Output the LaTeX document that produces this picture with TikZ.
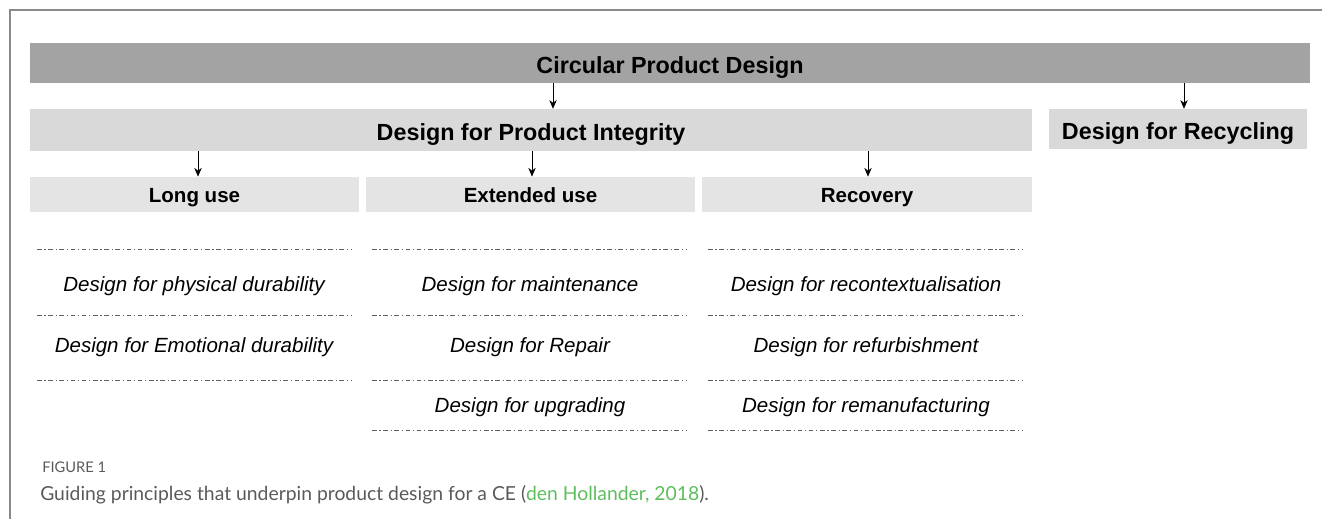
\documentclass[tikz,border=0pt]{standalone}
\usepackage{fontspec}
\setmainfont{Liberation Sans}
\newfontfamily\capfont{Lato}
\usetikzlibrary{arrows.meta}
\definecolor{topgray}{HTML}{A3A3A3}
\definecolor{midgray}{HTML}{D9D9D9}
\definecolor{subgray}{HTML}{E4E4E4}
\definecolor{sepgray}{HTML}{606060}
\definecolor{framegray}{HTML}{8A8A8A}
\definecolor{capgray}{HTML}{5A5A5A}
\definecolor{citegreen}{HTML}{5DBE5D}

\begin{document}
\begin{tikzpicture}[x=0.75pt,y=-0.75pt,
    bar/.style={inner sep=0pt,text height=15pt,text depth=0pt,
        font=\fontsize{17.5}{21}\selectfont\bfseries},
    sub/.style={inner sep=0pt,fill=subgray,minimum width=246.75pt,
        minimum height=26.5pt,text height=12pt,text depth=0pt,
        font=\fontsize{15.4}{18}\selectfont\bfseries},
    item/.style={inner sep=0pt,text height=12pt,text depth=0pt,
        font=\fontsize{15.4}{18}\selectfont\itshape},
    sep/.style={draw=sepgray,line width=0.7pt,
        dash pattern=on 3.5pt off 2pt on 0.9pt off 2pt},
    >={Stealth[length=6.5pt,width=5.5pt]}]
\useasboundingbox (0,0) rectangle (1322,519);
\draw[framegray,line width=1.2pt] (10,519) -- (10,10) -- (1322,10);
% bars
\node[bar,fill=topgray,minimum width=960pt,minimum height=30pt]
    (cpd) at (670,63) {Circular Product Design};
\node[bar,fill=midgray,minimum width=751.5pt,minimum height=31.5pt]
    (dpi) at (531,130) {Design for Product Integrity};
\node[bar,fill=midgray,minimum width=193.5pt,minimum height=30pt]
    (dfr) at (1178,129) {Design for Recycling};
\node[sub] (lu) at (194.5,194.5) {Long use};
\node[sub] (eu) at (530.5,194.5) {Extended use};
\node[sub,minimum width=247.5pt] (rc) at (867,194.5) {Recovery};
\draw[->] (cpd.south -| 553,0) -- (dpi.north -| 553,0);
\draw[->] (cpd.south -| 1184,0) -- (dfr.north -| 1184,0);
\draw[->] (dpi.south -| 198,0) -- (lu.north -| 198,0);
\draw[->] (dpi.south -| 532,0) -- (eu.north -| 532,0);
\draw[->] (dpi.south -| 868,0) -- (rc.north -| 868,0);
% principles
\node[item] (pd) at (194,283) {Design for physical durability};
\node[item] (ed) at (194,344) {Design for Emotional durability};
\node[item] (mt) at (530,283) {Design for maintenance};
\node[item] (rp) at (530,344) {Design for Repair};
\node[item] (ug) at (530,404) {Design for upgrading};
\node[item] (rx) at (866,283) {Design for recontextualisation};
\node[item] (rf) at (866,344) {Design for refurbishment};
\node[item] (rm) at (866,404) {Design for remanufacturing};
\draw[sep] (37,249) -- (351,249);
\draw[sep] (37,315) -- (351,315);
\draw[sep] (37,380) -- (351,380);
\draw[sep] (372,249) -- (687,249);
\draw[sep] (372,315) -- (687,315);
\draw[sep] (372,380) -- (687,380);
\draw[sep] (372,430) -- (687,430);
\draw[sep] (708,249) -- (1023,249);
\draw[sep] (708,315) -- (1023,315);
\draw[sep] (708,380) -- (1023,380);
\draw[sep] (708,430) -- (1023,430);
% caption
\node[anchor=base west,inner sep=0pt,text=capgray,
    font=\capfont\fontsize{11}{13}\selectfont]
    (fig) at (42,472) {FIGURE 1};
\node[anchor=base west,inner sep=0pt,text=capgray,
    font=\capfont\fontsize{14.5}{17}\selectfont]
    (cap) at (40,500) {Guiding principles that underpin product design for a CE
    (\textcolor{citegreen}{den Hollander, 2018}).};
\end{tikzpicture}
\end{document}
